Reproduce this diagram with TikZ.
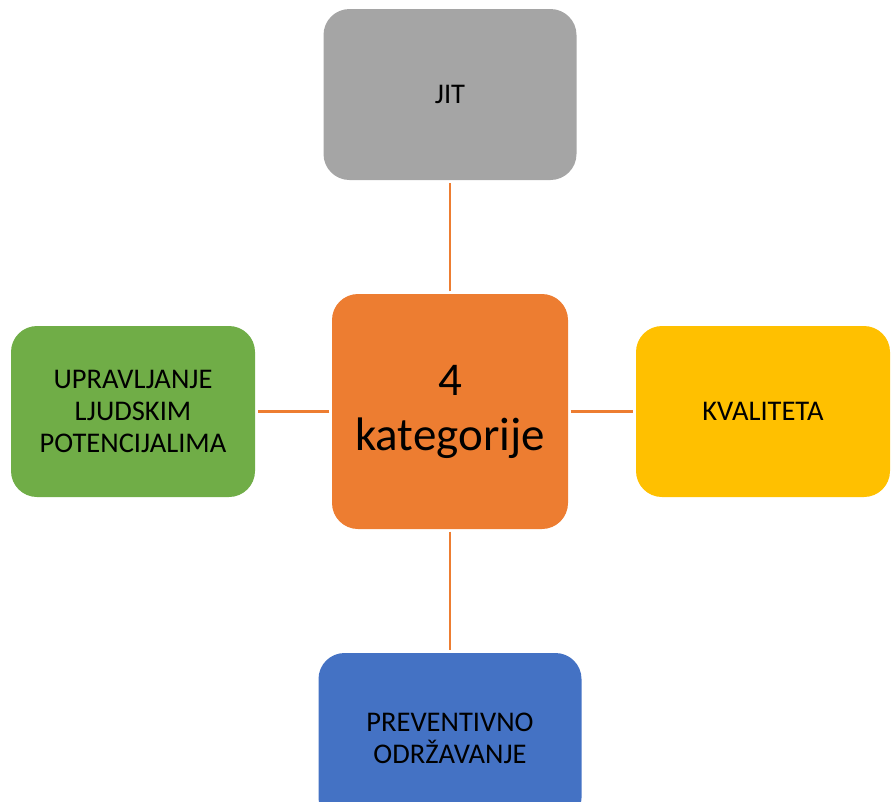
\documentclass[tikz,border=0pt]{standalone}
\usepackage{fontspec}
\setmainfont{Carlito}
\definecolor{ksiva}{HTML}{A5A5A5}
\definecolor{knarancasta}{HTML}{ED7D31}
\definecolor{kzelena}{HTML}{70AD47}
\definecolor{kzuta}{HTML}{FFC000}
\definecolor{kplava}{HTML}{4472C4}
\tikzset{kutija/.style={rounded corners=26pt, inner sep=0pt, align=center,
    minimum width=250pt, minimum height=171pt, font=\fontsize{28.5}{32}\selectfont},
  veza/.style={knarancasta, line width=2.5pt, shorten >=2.5pt, shorten <=2.5pt}}

\begin{document}
\begin{tikzpicture}[x=1pt,y=-1pt]
    \useasboundingbox (0,0) rectangle (891,801);
    \node[kutija, fill=knarancasta, minimum width=236pt, minimum height=235pt,
      font=\fontsize{47}{55}\selectfont] (kat) at (450,411.5) {4\\kategorije};
    \node[kutija, fill=ksiva, minimum width=253pt] (jit) at (450,94.5) {JIT};
    \node[kutija, fill=kzelena, minimum width=244pt] (ljudi) at (133,411.5) {UPRAVLJANJE\\LJUDSKIM\\POTENCIJALIMA};
    \node[kutija, fill=kzuta, minimum width=254pt] (kval) at (763,411.5) {KVALITETA};
    \node[kutija, fill=kplava, minimum width=263pt] (odr) at (450,738.5) {PREVENTIVNO\\ODRŽAVANJE};
    \draw[veza] (kat) -- (jit);
    \draw[veza] (kat) -- (ljudi);
    \draw[veza] (kat) -- (kval);
    \draw[veza] (kat) -- (odr);
\end{tikzpicture}
\end{document}
